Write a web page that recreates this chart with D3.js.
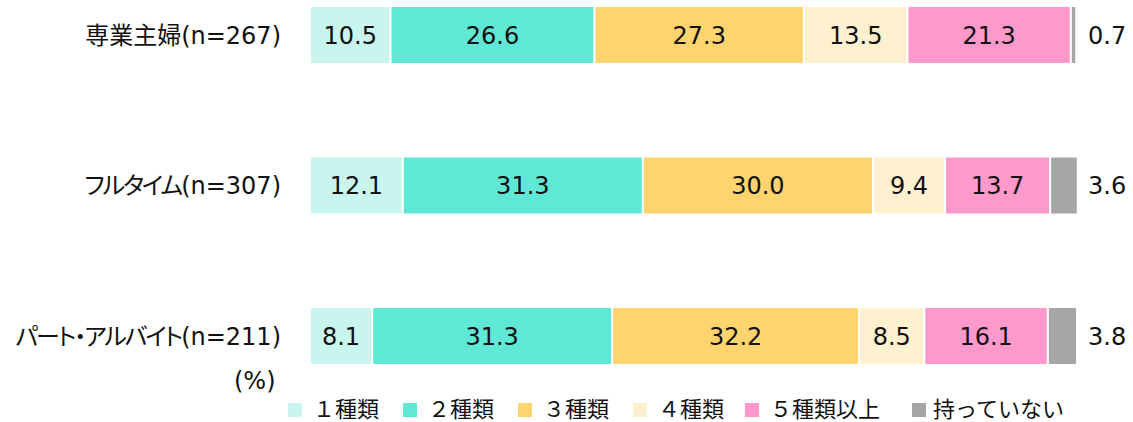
<!DOCTYPE html>
<html>
<head>
<meta charset="utf-8">
<script src="https://cdn.jsdelivr.net/npm/d3@7"></script>
<style>
  body { margin: 0; background: #fff; }
  text { font-family: "DejaVu Sans", "Noto Sans CJK JP", sans-serif; fill: #111; }
  .cat { font-feature-settings: "palt"; }
</style>
</head>
<body>
<div id="chart"></div>
<script>
const groups = ['専業主婦(n=267)', 'フルタイム(n=307)', 'パート・アルバイト(n=211)'];
const series = ['１種類', '２種類', '３種類', '４種類', '５種類以上', '持っていない'];
const colors = ['#c9f5ef', '#60e8d6', '#ffd46e', '#fff0cf', '#ff99cc', '#a6a6a6'];
const values = [
  [10.5, 26.6, 27.3, 13.5, 21.3, 0.7],
  [12.1, 31.3, 30.0, 9.4, 13.7, 3.6],
  [8.1, 31.3, 32.2, 8.5, 16.1, 3.8]
];

const width = 1133, height = 422;
const svg = d3.select('#chart').append('svg').attr('width', width).attr('height', height);

const x = d3.scaleLinear().domain([0, 100]).range([310, 1077]);
const y = d3.scaleBand().domain(groups).range([6, 365]).paddingInner(0.6146).paddingOuter(0);

// stack each row
const rows = groups.map((g, i) => {
  let acc = 0;
  return values[i].map((v, j) => {
    const seg = {group: g, key: series[j], v: v, x0: acc, x1: acc + v, color: colors[j], idx: j};
    acc += v;
    return seg;
  });
});

const bars = svg.append('g');
rows.forEach(row => {
  bars.selectAll(null).data(row).enter().append('rect')
    .attr('x', d => x(d.x0))
    .attr('y', d => y(d.group))
    .attr('width', d => Math.max(0, x(d.x1) - x(d.x0)))
    .attr('height', y.bandwidth())
    .attr('fill', d => d.color)
    .attr('stroke', '#fff')
    .attr('stroke-width', 2);

  // values: last one outside the bar
  bars.selectAll(null).data(row).enter().append('text')
    .attr('x', d => d.idx === 5 ? x(100) + 11 : (x(d.x0) + x(d.x1)) / 2)
    .attr('y', d => y(d.group) + y.bandwidth() / 2)
    .attr('dy', '0.36em')
    .attr('text-anchor', d => d.idx === 5 ? 'start' : 'middle')
    .style('font-size', '24px')
    .text(d => d.v.toFixed(1));
});

// category labels (kana part a bit tighter, like the original font)
const cats = svg.append('g').selectAll('text').data(groups).enter().append('text')
  .attr('class', 'cat')
  .attr('x', 281)
  .attr('y', d => y(d) + y.bandwidth() / 2)
  .attr('dy', '0.36em')
  .attr('text-anchor', 'end')
  .style('font-size', '24px');
cats.append('tspan')
  .style('letter-spacing', (d, i) => i === 0 ? '0px' : '-2px')
  .text(d => d.slice(0, d.indexOf('(')));
cats.append('tspan').text(d => d.slice(d.indexOf('(')));

svg.append('text').attr('x', 234).attr('y', 380).attr('dy', '0.36em')
  .style('font-size', '24px').text('(%)');

// legend
const legX = [288, 403, 518, 633, 745, 912];
const leg = svg.append('g').selectAll('g').data(series).enter().append('g')
  .attr('transform', (d, i) => `translate(${legX[i]},409)`);
leg.append('rect').attr('x', 0).attr('y', -6).attr('width', 14).attr('height', 14)
  .attr('fill', (d, i) => colors[i]);
leg.append('text').attr('x', (d, i) => i === 5 ? 21 : 25).attr('dy', '0.36em')
  .style('font-size', '22px').text(d => d);
</script>
</body>
</html>
